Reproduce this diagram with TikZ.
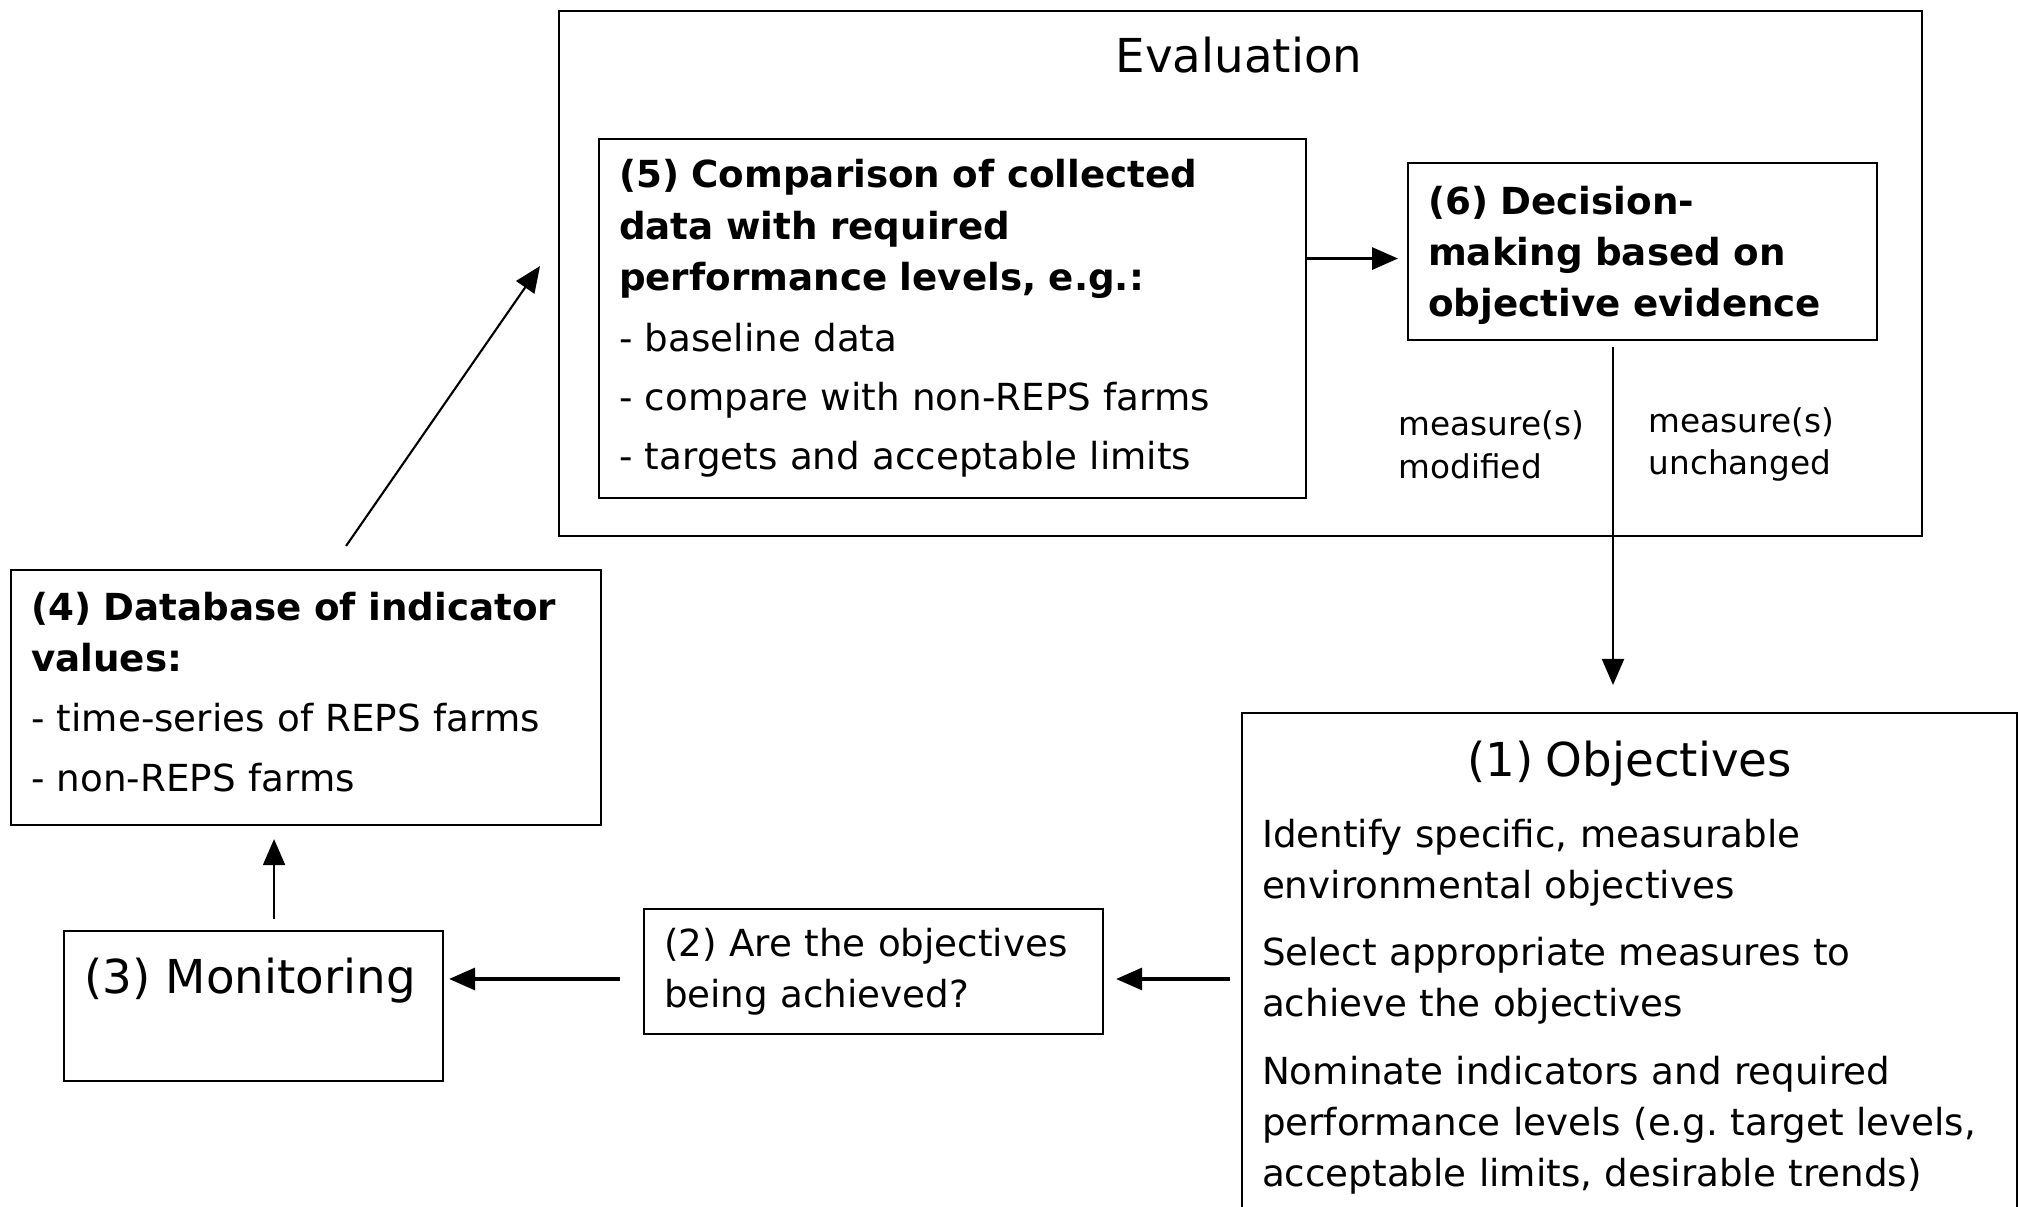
\documentclass[tikz,border=0pt]{standalone}
\usepackage{fontspec}
\setmainfont{DejaVu Sans}
\usetikzlibrary{arrows.meta,positioning}
\frenchspacing

\begin{document}
\begin{tikzpicture}[
    every node/.style={font=\fontsize{10.6}{14.6}\selectfont},
    box/.style={draw, line width=0.6pt, inner xsep=0.2cm, inner ysep=0pt, align=left},
    big/.style={font=\fontsize{13.3}{17}\selectfont},
    lbl/.style={font=\fontsize{9.3}{12.2}\selectfont, align=left, inner sep=0pt},
    arr/.style={-{Triangle[length=0.26cm,width=0.22cm]}, line width=0.9pt},
    thinarr/.style={-{Triangle[length=0.26cm,width=0.22cm]}, line width=0.6pt}
]

% Frame
\useasboundingbox (0,0) rectangle (20.2,12.07);
\clip (0,0) rectangle (20.2,12.07);

% Evaluation
\node[draw, line width=0.6pt, minimum width=13.63cm, minimum height=5.25cm, anchor=north west] (eval) at (5.58,11.97) {};
\node[big] (evaltitle) at (12.39,11.52) {Evaluation};

% (5) Comparison
\node[box, anchor=north west, text width=6.67cm, minimum height=3.59cm] (cmp) at (5.98,10.69) {\textbf{(5) Comparison of collected}\\ \textbf{data with required}\\ \textbf{performance levels, e.g.:}\\[2.9pt] - baseline data\\[2.2pt] - compare with non-REPS farms\\[2.2pt] - targets and acceptable limits};

% (6) Decision
\node[box, anchor=north west, text width=4.29cm, minimum height=1.77cm] (dec) at (14.07,10.45) {\rule{0pt}{0.36cm}\textbf{(6) Decision-}\\ \textbf{making based on}\\ \textbf{objective evidence}};

% (1) Objectives
\node[box, anchor=north west, text width=7.35cm, inner ysep=0.28cm] (obj) at (12.41,4.95) {\makebox[7.35cm]{\fontsize{13.3}{17}\selectfont (1) Objectives}\\[5.5pt] Identify specific, measurable\\ environmental objectives\\[4.5pt] Select appropriate measures to\\ achieve the objectives\\[4.5pt] Nominate indicators and required\\ performance levels (e.g. target levels,\\ acceptable limits, desirable trends)};

% (2) Question
\node[box, anchor=north west, text width=4.19cm, minimum height=1.25cm] (ask) at (6.43,2.99) {(2) Are the objectives\\ being achieved?};

% (3) Monitoring
\node[box, big, anchor=north west, text width=3.39cm, minimum height=1.5cm] (mon) at (0.63,2.77) {(3) Monitoring\\ \mbox{}};

% (4) Database
\node[box, anchor=north west, text width=5.5cm, minimum height=2.55cm] (db) at (0.10,6.38) {\textbf{(4) Database of indicator}\\ \textbf{values:}\\[2.4pt] - time-series of REPS farms\\[2.4pt] - non-REPS farms\rule[-0.12cm]{0pt}{0pt}};

% Comparison -> decision
\draw[arr, shorten >=0.09cm] ([yshift=-0.07cm]dec.west -| cmp.east) -- ([yshift=-0.07cm]dec.west);

% Decision -> objectives
\coordinate (drop) at (16.13,0);
\draw[thinarr, shorten <=0.06cm, shorten >=0.27cm] (drop |- dec.south) -- (drop |- obj.north);
\node[lbl, anchor=west] (modlbl) at (13.98,7.625) {measure(s)\\modified};
\node[lbl, anchor=west] (samelbl) at (16.48,7.625) {measure(s)\\unchanged};

% Objectives -> question -> monitoring
\coordinate (row) at (0,2.28);
\draw[arr, shorten <=0.11cm, shorten >=0.12cm] (obj.west |- row) -- (ask.east |- row);
\draw[arr, shorten <=0.23cm, shorten >=0.05cm] (ask.west |- row) -- (mon.east |- row);

% Monitoring -> database
\draw[thinarr, shorten <=0.11cm, shorten >=0.13cm] ([xshift=0.205cm]mon.north) -- ([xshift=0.205cm]mon.north |- db.south);

% Database -> evaluation
\draw[thinarr] ([xshift=0.4cm,yshift=0.23cm]db.north) -- ([xshift=-0.18cm,yshift=0.075cm]eval.west);

\end{tikzpicture}
\end{document}
